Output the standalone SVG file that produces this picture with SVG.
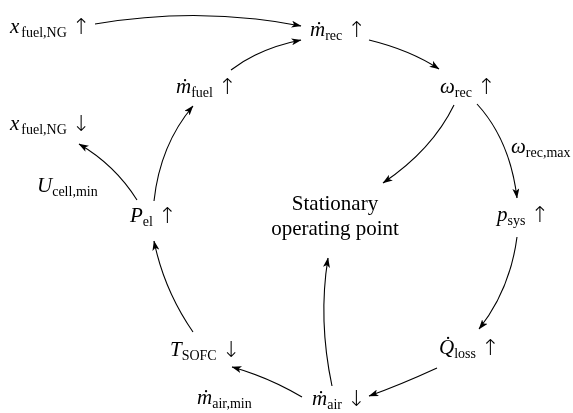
<svg xmlns="http://www.w3.org/2000/svg" width="573" height="413" viewBox="0 0 573 413">
<style>
.t{font-family:"Liberation Serif","Times New Roman",serif;font-size:21px;fill:#000}
.v{font-style:italic}
.s{font-size:14px;font-style:normal}
.a{font-family:"DejaVu Sans",sans-serif;font-size:22px;font-weight:200}
.e{fill:none;stroke:#000;stroke-width:1.1;marker-end:url(#ah)}
</style>
<defs>
<marker id="ah" viewBox="0 0 10 7" refX="9.5" refY="3.5" markerWidth="10" markerHeight="7" markerUnits="userSpaceOnUse" orient="auto">
<path d="M0,0 L10,3.5 L0,7 L2.5,3.5 z" fill="#000"/>
</marker>
<filter id="gray" x="0" y="0" width="1" height="1"><feColorMatrix type="saturate" values="0"/></filter>
</defs>
<rect width="573" height="413" fill="#fff"/>
<g filter="url(#gray)">
<rect width="573" height="413" fill="#fff"/>
<g id="connectors">
<path class="e" d="M95,24 Q200,6 301,26"/>
<path class="e" d="M231,70 Q260,48 301,40"/>
<path class="e" d="M369,40 Q410,50 439,69"/>
<path class="e" d="M454,105 Q432,150 383,183"/>
<path class="e" d="M477,104 Q510,140 517,198"/>
<path class="e" d="M517,237 Q510,290 479,329"/>
<path class="e" d="M437,368 Q400,385 369,396"/>
<path class="e" d="M332,386 Q318,320 328,258"/>
<path class="e" d="M302,397 Q268,377 232,367"/>
<path class="e" d="M193,332 Q164,290 154,241"/>
<path class="e" d="M154,201 Q160,145 193,106"/>
<path class="e" d="M137,200 Q115,165 79,144"/>
</g>
<g id="n-xfuel-up"><text class="t" x="10" y="33"><tspan class="v">x</tspan><tspan class="s" dx="2" dy="4">fuel,NG</tspan><tspan class="a" dx="5" dy="-3">↑&#xFE0E;</tspan></text></g>
<g id="n-mrec"><text class="t" x="310" y="36"><tspan class="v">ṁ</tspan><tspan class="s" dy="4">rec</tspan><tspan class="a" dx="5" dy="-3">↑&#xFE0E;</tspan></text></g>
<g id="n-wrec"><text class="t" x="440" y="93"><tspan class="v">ω</tspan><tspan class="s" dy="4">rec</tspan><tspan class="a" dx="5" dy="-3">↑&#xFE0E;</tspan></text></g>
<g id="n-mfuel"><text class="t" x="176" y="93"><tspan class="v">ṁ</tspan><tspan class="s" dy="4">fuel</tspan><tspan class="a" dx="5" dy="-3">↑&#xFE0E;</tspan></text></g>
<g id="n-xfuel-down"><text class="t" x="10" y="130"><tspan class="v">x</tspan><tspan class="s" dx="2" dy="4">fuel,NG</tspan><tspan class="a" dx="5" dy="-3">↓&#xFE0E;</tspan></text></g>
<g id="l-ucell"><text class="t" x="37" y="192"><tspan class="v">U</tspan><tspan class="s" dy="4">cell,min</tspan></text></g>
<g id="n-pel"><text class="t" x="130" y="222"><tspan class="v">P</tspan><tspan class="s" dy="4">el</tspan><tspan class="a" dx="5" dy="-3">↑&#xFE0E;</tspan></text></g>
<g id="n-stationary"><text class="t" text-anchor="middle" x="335" y="210">Stationary</text><text class="t" text-anchor="middle" x="335" y="235">operating point</text></g>
<g id="l-wrecmax"><text class="t" x="511" y="153"><tspan class="v">ω</tspan><tspan class="s" dy="4">rec,max</tspan></text></g>
<g id="n-psys"><text class="t" x="497" y="221"><tspan class="v">p</tspan><tspan class="s" dy="4">sys</tspan><tspan class="a" dx="5" dy="-3">↑&#xFE0E;</tspan></text></g>
<g id="n-qloss"><text class="t" x="439" y="354"><tspan class="v">Q̇</tspan><tspan class="s" dy="4">loss</tspan><tspan class="a" dx="5" dy="-3">↑&#xFE0E;</tspan></text></g>
<g id="n-tsofc"><text class="t" x="170" y="356"><tspan class="v">T</tspan><tspan class="s" dy="4">SOFC</tspan><tspan class="a" dx="5" dy="-3">↓&#xFE0E;</tspan></text></g>
<g id="l-mairmin"><text class="t" x="197" y="404"><tspan class="v">ṁ</tspan><tspan class="s" dy="4">air,min</tspan></text></g>
<g id="n-mair"><text class="t" x="312" y="405"><tspan class="v">ṁ</tspan><tspan class="s" dy="4">air</tspan><tspan class="a" dx="5" dy="-3">↓&#xFE0E;</tspan></text></g>
</g>
</svg>
